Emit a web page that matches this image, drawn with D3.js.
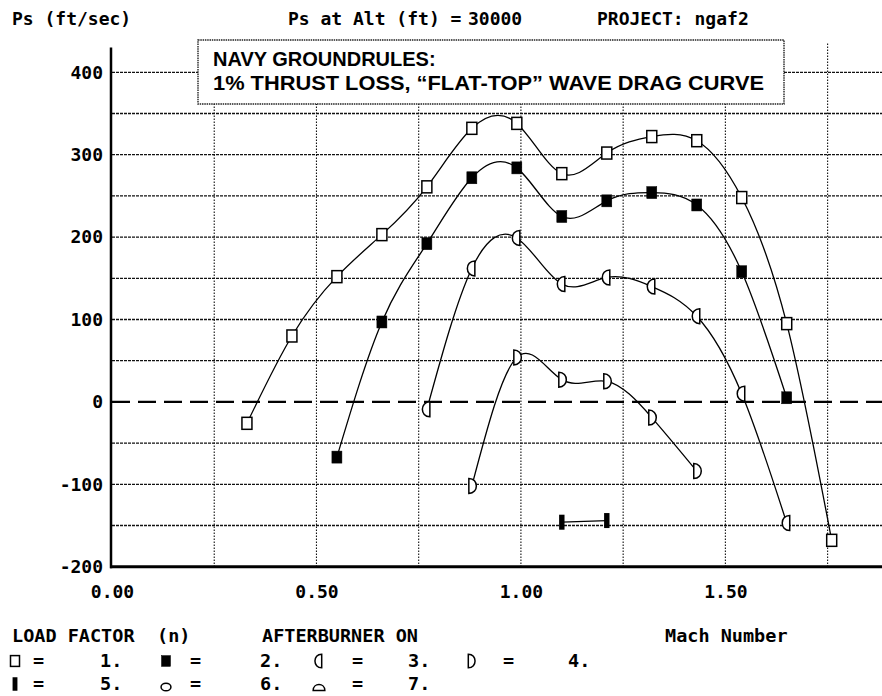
<!DOCTYPE html>
<html>
<head>
<meta charset="utf-8">
<script src="https://cdn.jsdelivr.net/npm/d3@7"></script>
<style>
  html, body { margin: 0; padding: 0; background: #fff; }
  svg { display: block; }
  .mono { font-family: "DejaVu Sans Mono", "Liberation Mono", monospace; font-weight: bold; fill: #000; }
  .box { font-family: "Liberation Sans", Arial, sans-serif; font-weight: bold; fill: #000; }
</style>
</head>
<body>
<svg id="chart" width="882" height="696"></svg>
<script>
// ---------------- data ----------------
const machValues = [0.33, 0.44, 0.55, 0.66, 0.77, 0.88, 0.99, 1.10, 1.21, 1.32, 1.43, 1.54, 1.65, 1.76];
// Ps (ft/sec) for each load factor, null where not computed
const psN1 = [-26, 80, 152, 203, 261, 332, 338, 277, 302, 322, 317, 248, 95, -168];
const psN2 = [null, null, -67, 97, 192, 272, 284, 225, 244, 254, 239, 158, 5, null];
const psN3 = [null, null, null, null, -9, 162, 199, 143, 151, 140, 104, 10, -147, null];
const psN4 = [null, null, null, null, null, -102, 54, 27, 25, -19, -84, null, null, null];
const psN5 = [null, null, null, null, null, null, null, -146, -144, null, null, null, null, null];
const seriesValues = [psN1, psN2, psN3, psN4, psN5];
const seriesMarkers = ["sq", "fsq", "hl", "hr", "bar"];

const yTickValues = [-200, -100, 0, 100, 200, 300, 400];
const yGridValues = [-150, -100, -50, 50, 100, 150, 200, 250, 300, 350, 400];
const xTickValues = [0, 0.5, 1.0, 1.5];
const xGridValues = [0.25, 0.5, 0.75, 1.0, 1.25, 1.5, 1.75];

const titleLeft = "Ps (ft/sec)";
const titleAlt = "Ps at Alt (ft) =";
const titleAltValue = "30000";
const titleProject = "PROJECT: ngaf2";
const boxLine1 = "NAVY GROUNDRULES:";
const boxLine2 = "1% THRUST LOSS, \u201CFLAT-TOP\u201D WAVE DRAG CURVE";
const xAxisTitle = "Mach Number";
const legendHeader = ["LOAD FACTOR", "(n)", "AFTERBURNER ON"];
const legendLabels = ["1.", "2.", "3.", "4.", "5.", "6.", "7."];
const legendMarkers = ["sq", "fsq", "hl", "hr", "bar", "circ", "dome"];

// ---------------- layout ----------------
const svg = d3.select("#chart");
const W = 882;
const x = d3.scaleLinear().domain([0, 1.883]).range([112, 882]);
const y = d3.scaleLinear().domain([-200, 400]).range([566.7, 72.3]);
const yTopValue = 430;
const x0 = x(0), yBottom = y(-200);

// horizontal grid
svg.append("g").selectAll("line").data(yGridValues).join("line")
  .attr("x1", x0).attr("x2", W)
  .attr("y1", d => y(d)).attr("y2", d => y(d))
  .attr("stroke", "#111").attr("stroke-width", 1.3)
  .attr("stroke-dasharray", "3,1");

// vertical grid
svg.append("g").selectAll("line").data(xGridValues).join("line")
  .attr("x1", d => x(d)).attr("x2", d => x(d))
  .attr("y1", y(yTopValue) - 4).attr("y2", yBottom)
  .attr("stroke", "#111").attr("stroke-width", 1.1)
  .attr("stroke-dasharray", "1.5,1.5");

// zero line (dashed)
svg.append("line")
  .attr("x1", x0).attr("x2", W)
  .attr("y1", y(0)).attr("y2", y(0))
  .attr("stroke", "#000").attr("stroke-width", 2.2)
  .attr("stroke-dasharray", "18,8");

// axes lines
svg.append("line").attr("x1", x0 - 1).attr("x2", x0 - 1)
  .attr("y1", y(yTopValue)).attr("y2", yBottom + 1.5)
  .attr("stroke", "#000").attr("stroke-width", 2.5);
svg.append("line").attr("x1", x0 - 2).attr("x2", W)
  .attr("y1", yBottom).attr("y2", yBottom)
  .attr("stroke", "#000").attr("stroke-width", 3);

// axis tick labels
const yAxisG = svg.append("g").attr("transform", `translate(${x0 - 1},0)`)
  .call(d3.axisLeft(y).tickValues(yTickValues).tickSize(0).tickPadding(8)
    .tickFormat(d => (d < 0 ? "-" : "") + Math.abs(d)));
yAxisG.select(".domain").remove();
yAxisG.selectAll("text").attr("class", "mono").style("font-size", "18px");

const xAxisG = svg.append("g").attr("transform", `translate(0,${yBottom})`)
  .call(d3.axisBottom(x).tickValues(xTickValues).tickSize(0).tickPadding(19)
    .tickFormat(d3.format(".2f")));
xAxisG.select(".domain").remove();
xAxisG.selectAll("text").attr("class", "mono").style("font-size", "18px");

// annotation box
svg.append("rect").attr("x", 198).attr("y", 40).attr("width", 586).attr("height", 64)
  .attr("fill", "#fff").attr("stroke", "#222").attr("stroke-width", 1.4)
  .attr("stroke-dasharray", "1.5,0.8");
svg.append("text").attr("class", "box").attr("x", 213).attr("y", 66)
  .style("font-size", "20px").text(boxLine1);
svg.append("text").attr("class", "box").attr("x", 213).attr("y", 90)
  .style("font-size", "20px")
  .attr("textLength", 551).attr("lengthAdjust", "spacingAndGlyphs")
  .text(boxLine2);

// ---------------- markers ----------------
function drawMarker(g, type, cx, cy, k) {
  k = k || 1;
  const sw = 1.5;
  if (type === "sq") {
    g.append("rect").attr("x", cx - 5 * k).attr("y", cy - 6 * k)
      .attr("width", 10 * k).attr("height", 12 * k)
      .attr("fill", "#fff").attr("stroke", "#000").attr("stroke-width", sw);
  } else if (type === "fsq") {
    g.append("rect").attr("x", cx - 5 * k).attr("y", cy - 6 * k)
      .attr("width", 10 * k).attr("height", 12 * k)
      .attr("fill", "#000").attr("stroke", "#000").attr("stroke-width", 0.5);
  } else if (type === "hl") {
    const p = d3.path();
    p.moveTo(cx + 3 * k, cy - 7.5 * k);
    p.lineTo(cx + 3 * k, cy + 7.5 * k);
    p.bezierCurveTo(cx - 7 * k, cy + 7.5 * k, cx - 7 * k, cy - 7.5 * k, cx + 3 * k, cy - 7.5 * k);
    p.closePath();
    g.append("path").attr("d", p.toString())
      .attr("fill", "#fff").attr("stroke", "#000").attr("stroke-width", sw);
  } else if (type === "hr") {
    const p = d3.path();
    p.moveTo(cx - 3 * k, cy - 7.5 * k);
    p.lineTo(cx - 3 * k, cy + 7.5 * k);
    p.bezierCurveTo(cx + 7 * k, cy + 7.5 * k, cx + 7 * k, cy - 7.5 * k, cx - 3 * k, cy - 7.5 * k);
    p.closePath();
    g.append("path").attr("d", p.toString())
      .attr("fill", "#fff").attr("stroke", "#000").attr("stroke-width", sw);
  } else if (type === "bar") {
    g.append("rect").attr("x", cx - 2.7 * k).attr("y", cy - 7.5 * k)
      .attr("width", 5.4 * k).attr("height", 15 * k).attr("fill", "#000");
  } else if (type === "circ") {
    g.append("ellipse").attr("cx", cx).attr("cy", cy).attr("rx", 5.5 * k).attr("ry", 4.3 * k)
      .attr("fill", "#fff").attr("stroke", "#000").attr("stroke-width", sw);
  } else if (type === "dome") {
    const p = d3.path();
    p.moveTo(cx - 6.5 * k, cy + 4 * k);
    p.lineTo(cx + 6.5 * k, cy + 4 * k);
    p.bezierCurveTo(cx + 6.5 * k, cy - 5 * k, cx - 6.5 * k, cy - 5 * k, cx - 6.5 * k, cy + 4 * k);
    p.closePath();
    g.append("path").attr("d", p.toString())
      .attr("fill", "#fff").attr("stroke", "#000").attr("stroke-width", sw);
  }
}

// ---------------- curves ----------------
const line = d3.line().x(d => x(d[0])).y(d => y(d[1])).curve(d3.curveNatural);
const curvesG = svg.append("g");
const markersG = svg.append("g");
seriesValues.forEach((vals, i) => {
  const pts = machValues.map((m, j) => [m, vals[j]]).filter(d => d[1] !== null);
  curvesG.append("path").attr("d", line(pts))
    .attr("fill", "none").attr("stroke", "#000").attr("stroke-width", 1.3);
  pts.forEach(d => drawMarker(markersG, seriesMarkers[i], x(d[0]), y(d[1]), 1));
});

// ---------------- titles ----------------
function mono(txt, tx, ty, size) {
  return svg.append("text").attr("class", "mono").attr("x", tx).attr("y", ty)
    .style("font-size", size + "px").style("white-space", "pre").text(txt);
}
mono(titleLeft, 12, 25, 18);
mono(titleAlt, 288, 25, 18);
mono(titleAltValue, 468, 25, 18);
mono(titleProject, 597, 25, 18);

// ---------------- bottom legend ----------------
const LS = 18.5;
mono(legendHeader[0], 12, 642, LS);
mono(legendHeader[1], 157, 642, LS);
mono(legendHeader[2], 262, 642, LS);
mono(xAxisTitle, 665, 642, LS);

const legG = svg.append("g");
const legCols = [15, 166, 319, 471];
const legEq = [33, 190, 352, 503];
const legNum = [100, 260, 408, 568];
const legRowBase = [667, 690];
const legRowMark = [661, 684];
legendLabels.forEach((lab, i) => {
  const r = i < 4 ? 0 : 1;
  const c = i < 4 ? i : i - 4;
  let my = legRowMark[r];
  if (legendMarkers[i] === "circ" || legendMarkers[i] === "dome") my += 3;
  drawMarker(legG, legendMarkers[i], legCols[c], my, 0.9);
  mono("=", legEq[c], legRowBase[r], LS);
  mono(lab, legNum[c], legRowBase[r], LS);
});
</script>
</body>
</html>
